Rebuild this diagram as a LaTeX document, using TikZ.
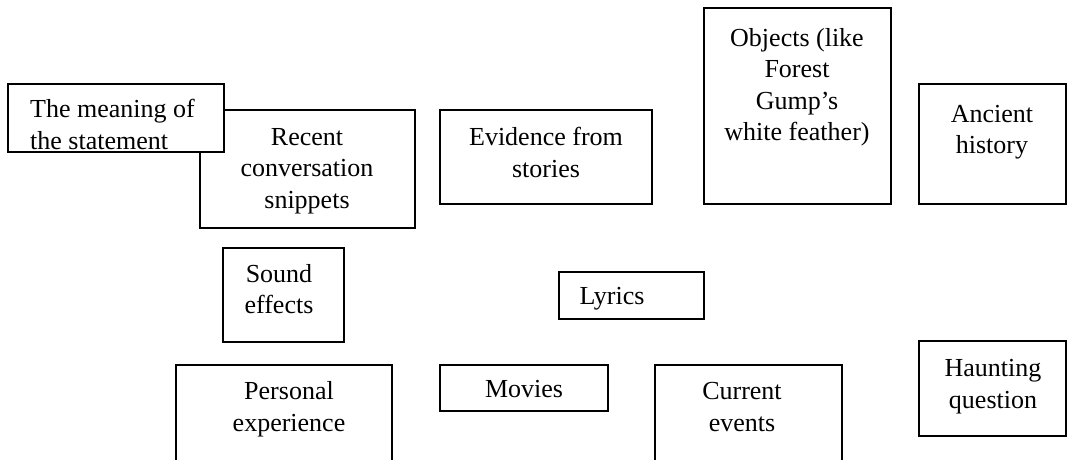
\documentclass[tikz,border=0pt]{standalone}
\usepackage{fontspec}
\setmainfont{Liberation Serif}
\begin{document}
\begin{tikzpicture}[x=1pt,y=-1pt,
  box/.style={draw=black, line width=1.6pt, fill=white, inner sep=0pt},
  txt/.style={font=\fontsize{26}{31.5}\selectfont, align=center, inner sep=0pt, text=black}]
\clip (0,0) rectangle (1079,460);
\fill[white] (0,0) rectangle (1079,460);
% boxes
\node[box, minimum width=215pt, minimum height=118pt] (recent) at (307.5,169) {};
\node[box, minimum width=216pt, minimum height=68pt] (meaning) at (116,118) {};
\node[box, minimum width=212pt, minimum height=94pt] (evidence) at (546,157) {};
\node[box, minimum width=187pt, minimum height=196pt] (objects) at (797.5,106) {};
\node[box, minimum width=147pt, minimum height=120pt] (ancient) at (992.5,144) {};
\node[box, minimum width=121pt, minimum height=94pt] (sound) at (283.5,295) {};
\node[box, minimum width=145pt, minimum height=47pt] (lyrics) at (631.5,295.5) {};
\node[box, minimum width=216pt, minimum height=125pt] (personal) at (284,427.5) {};
\node[box, minimum width=168pt, minimum height=46pt] (movies) at (524,388) {};
\node[box, minimum width=187pt, minimum height=125pt] (current) at (748.5,427.5) {};
\node[box, minimum width=147pt, minimum height=95pt] (haunting) at (992.5,388.5) {};
% texts
\node[txt] (trecent) at (307,171) {Recent\\conversation\\snippets};
\node[txt, align=left, anchor=west] (tmeaning) at (30,124.5) {The meaning of\\the statement};
\node[txt] (tevidence) at (546,152.5) {Evidence from\\stories};
\node[txt] (tobjects) at (797,87) {Objects (like\\Forest\\Gump’s\\white feather)};
\node[txt] (tancient) at (992,132) {Ancient\\history};
\node[txt] (tsound) at (279,289) {Sound\\effects};
\node[txt] (tlyrics) at (612,299) {Lyrics};
\node[txt] (tpersonal) at (289,409) {Personal\\experience};
\node[txt] (tmovies) at (524,389) {Movies};
\node[txt] (tcurrent) at (742,407) {Current\\events};
\node[txt] (thaunting) at (993,386.5) {Haunting\\question};
\end{tikzpicture}
\end{document}
